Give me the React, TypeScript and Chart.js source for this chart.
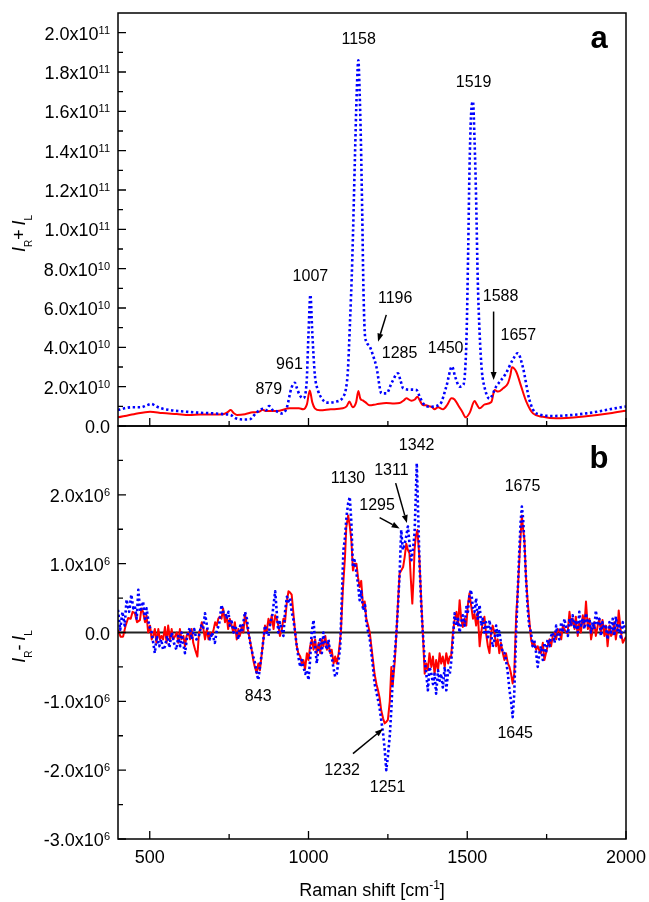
import React, { useEffect, useRef } from 'react';
import { Chart, registerables } from 'chart.js';
Chart.register(...registerables);

type Pt = [number, number];

const W = 649;
const H = 902;
const FONT = '"Liberation Sans", Arial, Helvetica, sans-serif';

// ---------- axes ----------
const X_MIN = 400;
const X_MAX = 2000;
const X_MAJOR = [500, 1000, 1500, 2000];
const X_MINOR = [750, 1250, 1750];
const X_LABELS = [500, 1000, 1500, 2000];

const A_MIN = 0;
const A_MAX = 2.1e11;
const A_MAJOR = [0, 2e10, 4e10, 6e10, 8e10, 1e11, 1.2e11, 1.4e11, 1.6e11, 1.8e11, 2e11];
const A_MINOR = [1e10, 3e10, 5e10, 7e10, 9e10, 1.1e11, 1.3e11, 1.5e11, 1.7e11, 1.9e11];

const B_MIN = -3e6;
const B_MAX = 3e6;
const B_MAJOR = [-3e6, -2e6, -1e6, 0, 1e6, 2e6];
const B_MINOR = [-2.5e6, -1.5e6, -0.5e6, 0.5e6, 1.5e6, 2.5e6];

const A_UNIT = 1e10;
const B_UNIT = 1e6;

// ---------- panel a: I_R + I_L (units of 1e10) ----------
const sumBlue: Pt[] = [
  [400, 0.81], [420, 0.9], [442, 0.95], [473, 0.95], [490, 1.05], [505, 1.12], [520, 1.0], [536, 0.9],
  [560, 0.82], [589, 0.76], [620, 0.72], [651, 0.68], [700, 0.64], [735, 0.6], [756, 0.55], [770, 0.4],
  [784, 0.34], [800, 0.33], [815, 0.34], [836, 0.68], [857, 0.88], [866, 0.8], [876, 1.02], [888, 0.8],
  [899, 0.75], [915, 0.64], [931, 0.9], [946, 1.92], [957, 2.2], [964, 1.9], [972, 1.58], [983, 1.41],
  [994, 2.2], [1000, 4.7], [1006, 6.67], [1012, 4.7], [1020, 2.6], [1030, 1.8], [1040, 1.45], [1057, 1.19],
  [1088, 1.24], [1110, 1.5], [1118, 1.9], [1124, 2.8], [1130, 5.0], [1138, 8.5], [1146, 13.5], [1152, 17.0],
  [1157, 18.6], [1161, 17.0], [1165, 14.5], [1169, 11.0], [1173, 7.0], [1177, 4.8], [1182, 4.3], [1193, 4.04],
  [1203, 3.6], [1214, 3.0], [1230, 1.66], [1246, 1.66], [1262, 2.2], [1282, 2.68], [1290, 2.3], [1298, 1.92],
  [1320, 1.85], [1340, 1.83], [1350, 1.5], [1361, 1.15], [1382, 0.98], [1414, 1.1], [1434, 2.0], [1452, 3.02],
  [1462, 2.5], [1476, 2.0], [1488, 2.1], [1494, 3.0], [1498, 4.7], [1503, 9.0], [1507, 13.0], [1512, 15.8],
  [1518, 16.5], [1523, 14.5], [1528, 11.5], [1533, 7.5], [1539, 4.7], [1546, 2.8], [1554, 2.0], [1570, 1.39],
  [1591, 2.0], [1622, 2.68], [1643, 3.36], [1659, 3.7], [1675, 3.0], [1696, 1.32], [1717, 0.64], [1770, 0.51],
  [1874, 0.64], [1995, 0.98], [2000, 0.99],
];

const sumRed: Pt[] = [
  [400, 0.44], [450, 0.6], [501, 0.73], [540, 0.66], [585, 0.61], [625, 0.56], [660, 0.58], [700, 0.58],
  [731, 0.6], [745, 0.7], [755, 0.81], [765, 0.65], [775, 0.56], [800, 0.6], [825, 0.7], [845, 0.72],
  [855, 0.82], [868, 0.76], [900, 0.76], [941, 0.9], [970, 0.9], [983, 0.85], [995, 1.1], [1004, 1.8],
  [1012, 1.2], [1020, 0.9], [1036, 0.8], [1070, 0.85], [1108, 0.9], [1120, 1.0], [1129, 1.24], [1139, 0.95],
  [1150, 1.2], [1157, 1.78], [1163, 1.4], [1171, 1.3], [1180, 1.2], [1192, 1.05], [1213, 1.1], [1245, 1.17],
  [1270, 1.15], [1287, 1.17], [1300, 1.3], [1308, 1.41], [1324, 1.29], [1335, 1.35], [1343, 1.49], [1352, 1.25],
  [1360, 1.07], [1370, 1.05], [1381, 1.0], [1390, 0.95], [1397, 0.85], [1408, 0.95], [1424, 0.85], [1438, 1.1],
  [1450, 1.41], [1460, 1.35], [1471, 1.07], [1485, 0.7], [1495, 0.44], [1508, 0.68], [1523, 1.27], [1530, 1.1],
  [1539, 0.9], [1555, 1.1], [1576, 1.22], [1586, 1.83], [1597, 1.75], [1613, 1.92], [1628, 2.17], [1636, 2.6],
  [1641, 2.99], [1654, 2.77], [1670, 2.0], [1686, 1.24], [1707, 0.64], [1738, 0.47], [1780, 0.39], [1874, 0.5],
  [1950, 0.65], [2000, 0.78],
];

// ---------- panel b: I_R - I_L (units of 1e6) ----------
const diffBlue: Pt[] = [
  [400, 0.33], [407, 0.04], [414, 0.3], [421, 0.1], [427, 0.48], [435, 0.3], [442, 0.55], [448, 0.35],
  [453, 0.38], [459, 0.2], [464, 0.62], [470, 0.3], [479, 0.45], [485, 0.2], [490, 0.35], [498, 0.1],
  [506, 0.0], [511, -0.15], [516, -0.3], [522, -0.05], [530, -0.2], [536, -0.1], [542, -0.25], [548, -0.2],
  [555, -0.05], [562, -0.22], [569, 0.0], [576, -0.15], [584, -0.25], [590, -0.05], [596, -0.2], [600, 0.0],
  [605, -0.15], [611, -0.3], [618, -0.05], [626, 0.07], [632, -0.1], [640, 0.05], [647, -0.1], [655, -0.05],
  [662, 0.1], [668, 0.05], [674, 0.28], [680, 0.1], [686, -0.05], [690, -0.1], [696, 0.0], [705, -0.15],
  [712, 0.05], [718, 0.1], [726, 0.4], [731, 0.3], [737, 0.3], [742, 0.2], [748, 0.3], [752, 0.1],
  [758, 0.16], [764, 0.0], [770, 0.1], [776, -0.05], [779, -0.1], [785, 0.1], [790, 0.0], [795, 0.15],
  [800, 0.3], [806, 0.2], [811, 0.0], [818, -0.2], [826, -0.35], [832, -0.45], [837, -0.6], [842, -0.69],
  [847, -0.5], [853, -0.3], [858, -0.1], [863, 0.1], [869, 0.0], [874, -0.05], [880, 0.15], [886, 0.25],
  [890, 0.4], [895, 0.6], [900, 0.3], [905, 0.0], [910, 0.15], [915, 0.05], [921, -0.05], [926, 0.3],
  [932, 0.52], [937, 0.45], [942, 0.5], [947, 0.3], [952, 0.2], [958, 0.0], [963, -0.2], [968, -0.35],
  [974, -0.5], [979, -0.4], [984, -0.5], [990, -0.6], [995, -0.55], [1000, -0.69], [1005, -0.4], [1010, 0.0],
  [1016, 0.18], [1021, -0.2], [1026, -0.45], [1032, -0.2], [1037, -0.1], [1042, -0.3], [1047, 0.0], [1052, -0.15],
  [1058, -0.25], [1063, -0.1], [1068, -0.3], [1073, -0.35], [1078, -0.5], [1084, -0.64], [1089, -0.6], [1095, -0.4],
  [1100, -0.2], [1105, 0.5], [1110, 1.2], [1114, 1.34], [1120, 1.7], [1125, 1.88], [1130, 1.97], [1135, 1.6],
  [1140, 0.95], [1145, 1.05], [1151, 0.86], [1156, 0.7], [1161, 0.47], [1166, 0.6], [1172, 0.32], [1178, 0.4],
  [1182, 0.15], [1187, 0.03], [1193, -0.1], [1198, -0.3], [1203, -0.5], [1208, -0.74], [1213, -0.85], [1219, -0.98],
  [1224, -1.1], [1229, -1.27], [1235, -1.47], [1240, -1.7], [1245, -2.0], [1250, -1.8], [1256, -1.5], [1261, -1.1],
  [1266, -0.6], [1272, -0.3], [1277, 0.0], [1282, 0.4], [1287, 0.86], [1292, 1.49], [1297, 1.2], [1303, 1.29],
  [1308, 1.4], [1313, 1.54], [1318, 1.3], [1324, 1.05], [1329, 1.2], [1334, 1.44], [1338, 2.0], [1341, 2.46],
  [1345, 1.8], [1350, 0.95], [1355, 0.4], [1360, 0.0], [1366, -0.4], [1371, -0.6], [1376, -0.84], [1381, -0.5],
  [1387, -0.6], [1392, -0.75], [1397, -0.6], [1402, -0.89], [1408, -0.55], [1413, -0.7], [1418, -0.6], [1423, -0.8],
  [1429, -0.5], [1434, -0.84], [1440, -0.55], [1445, -0.6], [1450, -0.4], [1455, -0.1], [1460, 0.28], [1466, 0.1],
  [1471, 0.2], [1476, 0.0], [1481, 0.15], [1486, 0.25], [1492, 0.1], [1497, 0.37], [1502, 0.3], [1507, 0.55],
  [1512, 0.62], [1518, 0.35], [1523, 0.3], [1528, 0.5], [1533, 0.2], [1539, 0.4], [1544, 0.1], [1549, 0.2],
  [1554, 0.0], [1559, 0.15], [1565, -0.1], [1570, 0.18], [1575, 0.0], [1580, -0.21], [1586, -0.1], [1591, 0.1],
  [1596, -0.05], [1601, 0.02], [1606, -0.15], [1612, -0.3], [1617, -0.3], [1622, -0.4], [1628, -0.6], [1633, -0.84],
  [1638, -1.0], [1643, -1.23], [1648, -0.9], [1654, 0.0], [1659, 0.6], [1664, 1.2], [1668, 1.6], [1672, 1.83],
  [1676, 1.65], [1680, 1.3], [1685, 0.8], [1690, 0.37], [1695, 0.1], [1701, 0.0], [1706, -0.2], [1711, -0.1],
  [1717, -0.3], [1722, -0.5], [1727, -0.3], [1732, -0.2], [1738, -0.4], [1743, -0.15], [1748, -0.3], [1753, -0.1],
  [1759, -0.2], [1764, -0.05], [1769, 0.0], [1775, -0.15], [1780, 0.1], [1785, -0.05], [1790, -0.1], [1796, 0.15],
  [1801, 0.0], [1806, 0.2], [1811, 0.08], [1817, -0.05], [1822, 0.2], [1827, 0.1], [1832, 0.25], [1838, 0.05],
  [1842, 0.18], [1848, 0.0], [1853, 0.3], [1858, 0.1], [1864, 0.2], [1869, 0.05], [1874, 0.28], [1880, 0.1],
  [1885, 0.2], [1890, 0.0], [1895, 0.15], [1900, 0.05], [1905, 0.32], [1911, 0.1], [1916, 0.2], [1921, -0.05],
  [1926, 0.15], [1932, 0.05], [1937, 0.08], [1942, -0.1], [1948, 0.15], [1953, 0.0], [1958, 0.2], [1963, -0.05],
  [1968, 0.23], [1974, 0.0], [1979, 0.1], [1984, -0.1], [1990, 0.15], [2000, 0.0],
];

const diffRed: Pt[] = [
  [400, 0.04], [408, -0.06], [416, -0.06], [424, 0.1], [432, 0.21], [440, 0.2], [446, 0.3], [453, 0.28],
  [460, 0.15], [469, 0.18], [474, 0.35], [479, 0.3], [485, 0.15], [490, 0.25], [495, 0.0], [501, 0.1],
  [506, -0.1], [511, -0.05], [516, 0.05], [521, -0.15], [527, 0.05], [532, -0.1], [537, -0.05], [542, -0.1],
  [548, 0.08], [553, -0.15], [558, 0.1], [564, -0.1], [569, 0.05], [574, -0.1], [580, -0.05], [585, 0.0],
  [590, -0.15], [595, 0.05], [600, -0.1], [606, -0.05], [611, -0.2], [616, -0.05], [622, 0.0], [627, -0.1],
  [632, 0.05], [637, -0.15], [643, -0.25], [650, -0.35], [655, 0.0], [660, 0.05], [664, 0.15], [669, 0.05],
  [674, -0.1], [680, 0.05], [685, -0.1], [690, 0.0], [695, -0.05], [700, 0.02], [706, 0.15], [711, 0.1],
  [716, 0.2], [721, 0.23], [726, 0.2], [731, 0.35], [737, 0.15], [742, 0.25], [747, 0.05], [752, 0.2],
  [758, 0.1], [763, 0.0], [768, 0.15], [774, -0.1], [779, 0.05], [784, -0.05], [790, 0.1], [795, 0.0],
  [800, 0.28], [806, 0.1], [811, 0.0], [815, -0.1], [821, -0.25], [826, -0.4], [831, -0.5], [837, -0.59],
  [842, -0.45], [847, -0.55], [853, -0.3], [858, -0.1], [863, 0.1], [868, 0.0], [874, 0.2], [879, 0.1],
  [884, 0.25], [890, 0.05], [895, 0.25], [900, 0.2], [905, 0.1], [910, -0.05], [916, 0.05], [921, 0.2],
  [926, 0.15], [932, 0.45], [937, 0.6], [942, 0.58], [947, 0.55], [952, 0.3], [958, 0.0], [963, -0.2],
  [968, -0.3], [974, -0.35], [979, -0.45], [984, -0.4], [989, -0.54], [995, -0.3], [1000, -0.4], [1005, -0.2],
  [1011, -0.1], [1016, -0.25], [1021, -0.1], [1026, -0.3], [1032, -0.15], [1037, -0.3], [1042, -0.1], [1047, -0.2],
  [1053, -0.05], [1058, -0.25], [1063, -0.15], [1068, -0.3], [1073, -0.25], [1079, -0.45], [1084, -0.35], [1089, -0.45],
  [1095, -0.3], [1102, 0.0], [1108, 0.6], [1115, 1.1], [1119, 1.53], [1125, 1.7], [1130, 1.55], [1135, 1.34],
  [1140, 0.9], [1145, 1.0], [1151, 1.0], [1156, 0.8], [1161, 0.66], [1166, 0.75], [1172, 0.37], [1177, 0.45],
  [1182, 0.2], [1188, 0.1], [1193, 0.0], [1198, -0.2], [1203, -0.4], [1208, -0.6], [1214, -0.75], [1219, -0.84],
  [1224, -0.95], [1229, -1.13], [1235, -1.25], [1240, -1.32], [1245, -1.3], [1250, -1.27], [1256, -1.0], [1261, -0.5],
  [1264, -0.75], [1266, -0.72], [1272, -0.4], [1277, 0.0], [1282, 0.45], [1287, 0.86], [1292, 0.9], [1298, 0.95],
  [1303, 1.1], [1308, 1.29], [1313, 1.2], [1318, 1.15], [1322, 0.8], [1327, 0.42], [1331, 0.8], [1334, 1.2],
  [1338, 1.4], [1343, 1.49], [1349, 1.1], [1355, 0.47], [1360, 0.0], [1366, -0.6], [1371, -0.45], [1376, -0.55],
  [1381, -0.3], [1387, -0.5], [1392, -0.35], [1397, -0.6], [1402, -0.4], [1408, -0.55], [1413, -0.3], [1418, -0.45],
  [1423, -0.35], [1429, -0.5], [1434, -0.3], [1440, -0.45], [1445, -0.35], [1449, -0.36], [1455, 0.0], [1460, 0.18],
  [1466, 0.3], [1471, 0.1], [1476, 0.47], [1481, 0.2], [1486, 0.08], [1492, 0.2], [1497, 0.1], [1502, 0.4],
  [1507, 0.57], [1512, 0.4], [1518, 0.2], [1523, 0.27], [1528, 0.1], [1533, 0.3], [1539, -0.2], [1544, 0.0],
  [1549, 0.15], [1554, 0.23], [1559, 0.0], [1565, -0.2], [1570, -0.3], [1575, 0.0], [1580, 0.1], [1586, -0.01],
  [1591, -0.2], [1596, -0.1], [1601, -0.3], [1606, -0.15], [1612, -0.3], [1617, -0.4], [1622, -0.3], [1628, -0.45],
  [1633, -0.5], [1638, -0.6], [1643, -0.74], [1648, -0.6], [1654, 0.23], [1659, 0.6], [1664, 1.05], [1668, 1.4],
  [1672, 1.7], [1676, 1.5], [1680, 1.35], [1685, 0.8], [1690, 0.47], [1695, 0.2], [1701, -0.1], [1706, -0.2],
  [1711, -0.15], [1717, -0.25], [1722, -0.2], [1727, -0.26], [1732, -0.3], [1738, -0.15], [1743, -0.4], [1748, -0.3],
  [1753, -0.2], [1759, -0.1], [1764, -0.2], [1769, -0.06], [1775, 0.0], [1780, -0.1], [1785, 0.05], [1790, 0.03],
  [1796, -0.1], [1801, 0.1], [1806, 0.05], [1811, 0.0], [1816, -0.01], [1822, 0.3], [1827, 0.1], [1832, 0.2],
  [1838, 0.05], [1842, 0.23], [1848, -0.05], [1853, 0.15], [1858, 0.0], [1864, 0.25], [1869, 0.1], [1874, 0.45],
  [1880, 0.05], [1885, 0.2], [1890, -0.1], [1895, 0.03], [1900, 0.15], [1905, -0.05], [1911, 0.1], [1916, 0.2],
  [1921, 0.0], [1926, 0.18], [1932, -0.05], [1937, 0.1], [1942, -0.2], [1948, 0.1], [1953, -0.05], [1958, -0.01],
  [1963, 0.15], [1968, -0.1], [1974, 0.1], [1977, 0.32], [1984, 0.0], [1990, -0.15], [2000, -0.06],
];

// ---------- annotations ----------
const A_NOTE_TEXT = ['879', '961', '1007', '1158', '1519', '1196', '1285', '1450', '1588', '1657'];
const A_NOTE_X = [875, 940, 1006, 1158, 1520, 1273, 1287, 1432, 1605, 1661];
const A_NOTE_Y = [1.83, 3.1, 7.6, 19.64, 17.44, 6.5, 3.7, 3.95, 6.58, 4.6];
const A_ARROWS: [number, number, number, number][] = [
  [1245, 5.65, 1219, 4.29],
  [1583, 5.82, 1583, 2.34],
];

const B_NOTE_TEXT = ['1130', '1342', '1311', '1295', '1675', '1645', '1232', '1251', '843'];
const B_NOTE_X = [1124.5, 1340.6, 1261, 1216, 1674, 1651, 1106, 1249, 841.5];
const B_NOTE_Y = [2.24, 2.71, 2.35, 1.85, 2.12, -1.47, -2.01, -2.26, -0.93];
const B_ARROWS: [number, number, number, number][] = [
  [1274.5, 2.17, 1310, 1.59],
  [1224, 1.67, 1287, 1.51],
  [1140, -1.76, 1234.6, -1.4],
];

// ---------- helpers ----------
function sci(v: number): [string, string] {
  if (v === 0) return ['0.0', ''];
  const e = Math.floor(Math.log10(Math.abs(v)) + 1e-9);
  const m = v / Math.pow(10, e);
  return [m.toFixed(1) + 'x10', String(e)];
}

type Piece = { t: string; font: string; dy: number };

function drawPieces(ctx: CanvasRenderingContext2D, pieces: Piece[], cx: number, baseY: number) {
  let total = 0;
  const widths = pieces.map((p) => {
    ctx.font = p.font;
    const w = ctx.measureText(p.t).width;
    total += w;
    return w;
  });
  let x = cx - total / 2;
  ctx.textAlign = 'left';
  ctx.textBaseline = 'alphabetic';
  pieces.forEach((p, i) => {
    ctx.font = p.font;
    ctx.fillText(p.t, x, baseY + p.dy);
    x += widths[i];
  });
}

function arrow(ctx: CanvasRenderingContext2D, x1: number, y1: number, x2: number, y2: number) {
  const ang = Math.atan2(y2 - y1, x2 - x1);
  const len = 8;
  const hw = 3;
  const bx = x2 - len * Math.cos(ang);
  const by = y2 - len * Math.sin(ang);
  ctx.beginPath();
  ctx.moveTo(x1, y1);
  ctx.lineTo(bx, by);
  ctx.lineWidth = 1.5;
  ctx.stroke();
  ctx.beginPath();
  ctx.moveTo(x2, y2);
  ctx.lineTo(bx - hw * Math.sin(ang), by + hw * Math.cos(ang));
  ctx.lineTo(bx + hw * Math.sin(ang), by - hw * Math.cos(ang));
  ctx.closePath();
  ctx.fill();
}

type PanelSpec = {
  id: string;
  unit: number;
  yMajor: number[];
  yMinor: number[];
  yLabels: number[];
  xLabels: boolean;
  letter: string;
  letterDy: number;
  titleSign: string;
  titleDy: number;
  zeroLine: boolean;
  noteText: string[];
  noteX: number[];
  noteY: number[];
  arrows: [number, number, number, number][];
};

function makePlugin(p: PanelSpec) {
  return {
    id: p.id,
    beforeDatasetsDraw(chart: any) {
      if (!p.zeroLine) return;
      const ctx = chart.ctx as CanvasRenderingContext2D;
      const { left, right } = chart.chartArea;
      const y = chart.scales.y.getPixelForValue(0);
      ctx.save();
      ctx.strokeStyle = '#222';
      ctx.lineWidth = 2;
      ctx.beginPath();
      ctx.moveTo(left, y);
      ctx.lineTo(right, y);
      ctx.stroke();
      ctx.restore();
    },
    afterDraw(chart: any) {
      const ctx = chart.ctx as CanvasRenderingContext2D;
      const { left, right, top, bottom } = chart.chartArea;
      const xs = chart.scales.x;
      const ys = chart.scales.y;
      ctx.save();
      ctx.strokeStyle = '#000';
      ctx.fillStyle = '#000';
      ctx.lineWidth = 1.5;
      ctx.strokeRect(left, top, right - left, bottom - top);

      ctx.lineWidth = 1.3;
      ctx.beginPath();
      p.yMajor.forEach((v) => {
        const y = ys.getPixelForValue(v);
        ctx.moveTo(left, y);
        ctx.lineTo(left + 8, y);
      });
      p.yMinor.forEach((v) => {
        const y = ys.getPixelForValue(v);
        ctx.moveTo(left, y);
        ctx.lineTo(left + 5, y);
      });
      X_MAJOR.forEach((v) => {
        const x = xs.getPixelForValue(v);
        ctx.moveTo(x, bottom);
        ctx.lineTo(x, bottom - 8);
      });
      X_MINOR.forEach((v) => {
        const x = xs.getPixelForValue(v);
        ctx.moveTo(x, bottom);
        ctx.lineTo(x, bottom - 5);
      });
      ctx.stroke();

      // y tick labels
      p.yLabels.forEach((v) => {
        const y = ys.getPixelForValue(v);
        const [main, sup] = sci(v);
        const rightX = 110;
        ctx.textAlign = 'right';
        ctx.textBaseline = 'alphabetic';
        let supW = 0;
        if (sup) {
          ctx.font = `11px ${FONT}`;
          supW = ctx.measureText(sup).width;
          ctx.fillText(sup, rightX, y + 1);
        }
        ctx.font = `18px ${FONT}`;
        ctx.fillText(main, rightX - supW, y + 7);
      });

      // x tick labels + title
      if (p.xLabels) {
        ctx.font = `18px ${FONT}`;
        ctx.textAlign = 'center';
        ctx.textBaseline = 'alphabetic';
        X_LABELS.forEach((v) => {
          ctx.fillText(String(v), xs.getPixelForValue(v), bottom + 24);
        });
        drawPieces(
          ctx,
          [
            { t: 'Raman shift [cm', font: `18px ${FONT}`, dy: 0 },
            { t: '-1', font: `12px ${FONT}`, dy: -7 },
            { t: ']', font: `18px ${FONT}`, dy: 0 },
          ],
          (left + right) / 2,
          bottom + 57
        );
      }

      // y axis title (rotated)
      ctx.save();
      ctx.translate(25, (top + bottom) / 2 + p.titleDy);
      ctx.rotate(-Math.PI / 2);
      drawPieces(
        ctx,
        [
          { t: 'I', font: `italic 18px ${FONT}`, dy: 0 },
          { t: 'R', font: `10px ${FONT}`, dy: 7 },
          { t: p.titleSign, font: `18px ${FONT}`, dy: 0 },
          { t: ' ', font: `14px ${FONT}`, dy: 0 },
          { t: 'I', font: `italic 18px ${FONT}`, dy: 0 },
          { t: 'L', font: `10px ${FONT}`, dy: 7 },
        ],
        0,
        0
      );
      ctx.restore();

      // panel letter
      ctx.font = `bold 31px ${FONT}`;
      ctx.textAlign = 'center';
      ctx.textBaseline = 'alphabetic';
      ctx.fillText(p.letter, right - 27, top + p.letterDy);

      // annotations
      ctx.font = `16px ${FONT}`;
      ctx.textAlign = 'center';
      ctx.textBaseline = 'middle';
      p.noteText.forEach((t, i) => {
        ctx.fillText(t, xs.getPixelForValue(p.noteX[i]), ys.getPixelForValue(p.noteY[i] * p.unit));
      });
      p.arrows.forEach(([x1, y1, x2, y2]) => {
        arrow(
          ctx,
          xs.getPixelForValue(x1),
          ys.getPixelForValue(y1 * p.unit),
          xs.getPixelForValue(x2),
          ys.getPixelForValue(y2 * p.unit)
        );
      });
      ctx.restore();
    },
  };
}

function toPts(arr: Pt[], unit: number) {
  return arr.map(([x, y]) => ({ x, y: y * unit }));
}

function makeConfig(
  blue: Pt[],
  red: Pt[],
  unit: number,
  yMin: number,
  yMax: number,
  padTop: number,
  padBottom: number,
  smooth: boolean,
  spec: PanelSpec
): any {
  return {
    type: 'line',
    data: {
      datasets: [
        {
          data: toPts(blue, unit),
          borderColor: '#0000ff',
          borderWidth: 2.6,
          borderDash: [2.4, 2.6],
          borderCapStyle: 'butt',
          borderJoinStyle: 'round',
          pointRadius: 0,
          fill: false,
          tension: 0,
          cubicInterpolationMode: smooth ? 'monotone' : 'default',
        },
        {
          data: toPts(red, unit),
          borderColor: '#ff0000',
          borderWidth: 2,
          pointRadius: 0,
          fill: false,
          tension: 0,
          borderJoinStyle: 'round',
          cubicInterpolationMode: smooth ? 'monotone' : 'default',
        },
      ],
    },
    options: {
      responsive: false,
      animation: false,
      devicePixelRatio: 1,
      events: [],
      layout: { padding: { left: 118, right: 23, top: padTop, bottom: padBottom } },
      scales: {
        x: { type: 'linear', min: X_MIN, max: X_MAX, display: false },
        y: { type: 'linear', min: yMin, max: yMax, display: false },
      },
      plugins: { legend: { display: false }, tooltip: { enabled: false } },
    },
    plugins: [makePlugin(spec)],
  };
}

export default function App() {
  const aRef = useRef<HTMLCanvasElement>(null);
  const bRef = useRef<HTMLCanvasElement>(null);

  useEffect(() => {
    const specA: PanelSpec = {
      id: 'panelA',
      unit: A_UNIT,
      yMajor: A_MAJOR,
      yMinor: A_MINOR,
      yLabels: A_MAJOR,
      xLabels: false,
      letter: 'a',
      letterDy: 35,
      titleSign: '+',
      titleDy: 14,
      zeroLine: false,
      noteText: A_NOTE_TEXT,
      noteX: A_NOTE_X,
      noteY: A_NOTE_Y,
      arrows: A_ARROWS,
    };
    const specB: PanelSpec = {
      id: 'panelB',
      unit: B_UNIT,
      yMajor: B_MAJOR,
      yMinor: B_MINOR,
      yLabels: B_MAJOR,
      xLabels: true,
      letter: 'b',
      letterDy: 42,
      titleSign: '-',
      titleDy: 14,
      zeroLine: true,
      noteText: B_NOTE_TEXT,
      noteX: B_NOTE_X,
      noteY: B_NOTE_Y,
      arrows: B_ARROWS,
    };
    const ca = new Chart(
      aRef.current as HTMLCanvasElement,
      makeConfig(sumBlue, sumRed, A_UNIT, A_MIN, A_MAX, 13, H - 426, true, specA)
    );
    const cb = new Chart(
      bRef.current as HTMLCanvasElement,
      makeConfig(diffBlue, diffRed, B_UNIT, B_MIN, B_MAX, 426, H - 839, false, specB)
    );
    return () => {
      ca.destroy();
      cb.destroy();
    };
  }, []);

  return (
    <div style={{ position: 'fixed', left: 0, top: 0, width: W, height: H, background: '#fff' }}>
      <canvas ref={aRef} width={W} height={H} style={{ position: 'absolute', left: 0, top: 0, width: W, height: H }} />
      <canvas ref={bRef} width={W} height={H} style={{ position: 'absolute', left: 0, top: 0, width: W, height: H }} />
    </div>
  );
}
